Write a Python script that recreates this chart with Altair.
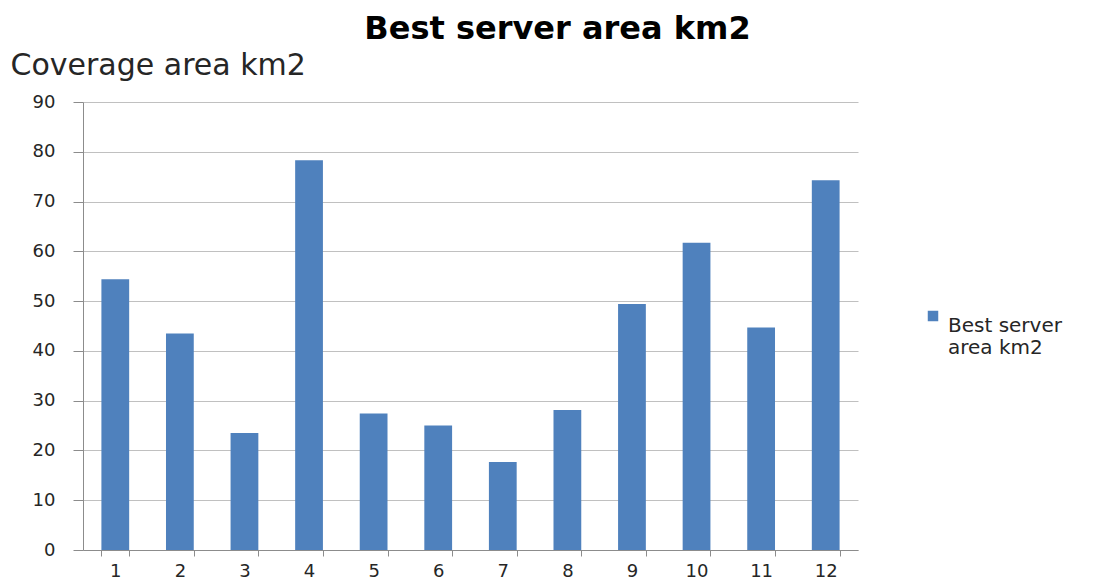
import altair as alt
import pandas as pd

categories = ["1", "2", "3", "4", "5", "6", "7", "8", "9", "10", "11", "12"]
values = [54.4, 43.5, 23.5, 78.3, 27.4, 25.0, 17.7, 28.1, 49.4, 61.7, 44.7, 74.3]
series_name = "Best server area km2"
y_ticks = [0, 10, 20, 30, 40, 50, 60, 70, 80, 90]

df = pd.DataFrame({
    "category": categories,
    "value": values,
    "series": [series_name] * len(categories),
})

FONT = "DejaVu Sans"
BAR = "#4f81bd"
GRID = "#c0c0c0"
AXIS = "#8c8c8c"
TEXT = "#262626"

chart = (
    alt.Chart(df)
    .mark_bar()
    .encode(
        x=alt.X(
            "category:N",
            sort=categories,
            scale=alt.Scale(paddingInner=0.57, paddingOuter=0.285),
            axis=alt.Axis(
                title=None,
                labelAngle=0,
                tickBand="extent",
                ticks=True,
                tickSize=6,
                tickColor=AXIS,
                domainColor=AXIS,
                labelFont=FONT,
                labelFontSize=18,
                labelColor=TEXT,
                labelPadding=6,
                grid=False,
            ),
        ),
        y=alt.Y(
            "value:Q",
            scale=alt.Scale(domain=[0, 90], nice=False),
            axis=alt.Axis(
                values=y_ticks,
                title="Coverage  area km2",
                titleAngle=0,
                titleAlign="left",
                titleBaseline="alphabetic",
                titleX=-73,
                titleY=-28,
                titleFont=FONT,
                titleFontSize=30,
                titleFontWeight="normal",
                titleColor=TEXT,
                labelFont=FONT,
                labelFontSize=18,
                labelColor=TEXT,
                labelPadding=18,
                tickSize=10,
                tickColor=AXIS,
                domainColor=AXIS,
                gridColor=GRID,
                grid=True,
            ),
        ),
        color=alt.Color(
            "series:N",
            scale=alt.Scale(range=[BAR]),
            legend=alt.Legend(
                title=None,
                orient="none",
                legendX=840,
                legendY=204,
                symbolType="square",
                symbolSize=110,
                symbolStrokeWidth=0,
                labelFont=FONT,
                labelFontSize=20,
                labelColor=TEXT,
                labelLimit=300,
                labelOffset=5,
                labelBaseline="top",
                labelExpr="[slice(datum.label, 0, 11), slice(datum.label, 12)]",
            ),
        ),
    )
    .properties(
        width=775,
        height=448,
        background="white",
        title=alt.TitleParams(
            "Best server area km2",
            font=FONT,
            fontSize=32,
            fontWeight="bold",
            color="black",
            anchor="middle",
            frame="group",
            baseline="alphabetic",
            dx=87,
            dy=38,
            offset=17,
        ),
        autosize=alt.AutoSizeParams(type="none"),
        padding={"left": 75, "top": 94, "right": 230, "bottom": 30},
    )
    .configure_view(strokeWidth=0)
)

chart.save("out.html", embed_options={"renderer": "svg", "actions": False})
